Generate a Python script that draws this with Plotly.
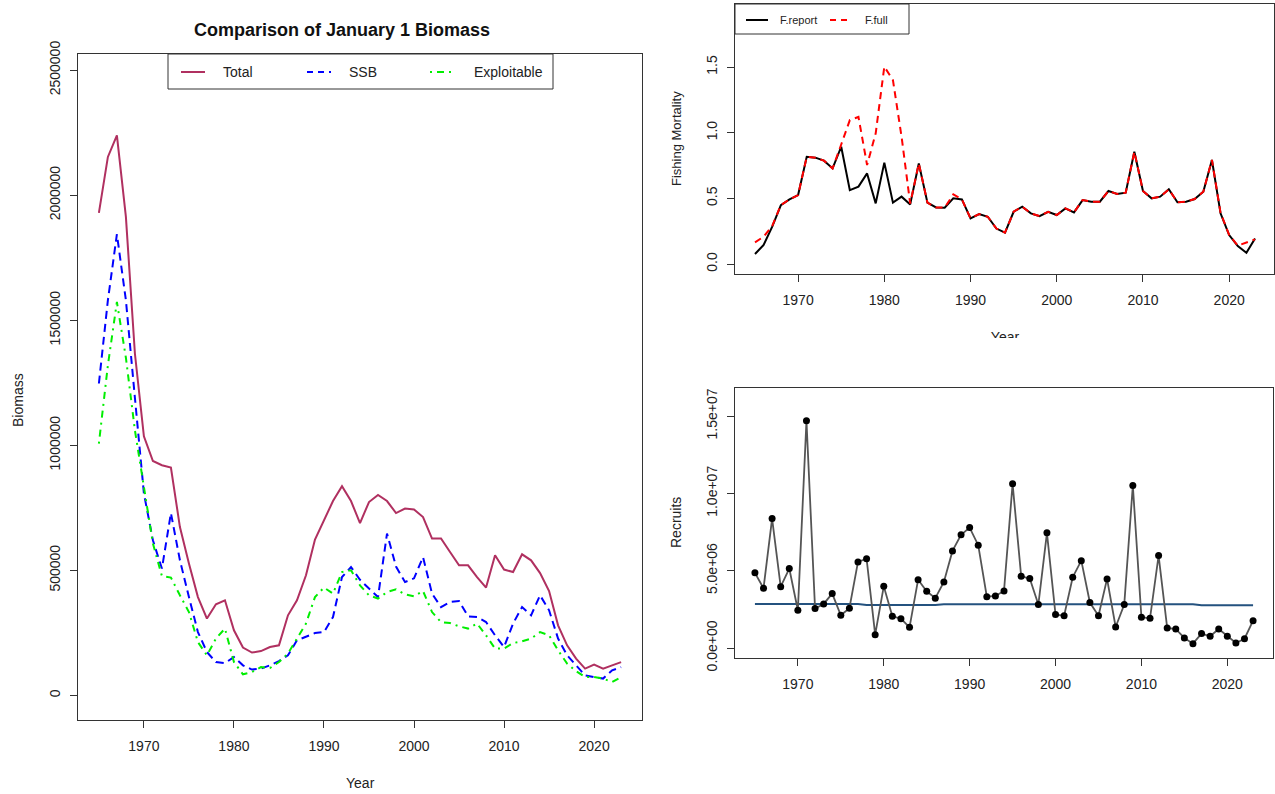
import plotly.graph_objects as go

# ---- data -------------------------------------------------------------
years = list(range(1965, 2024))

total_biomass = [
    1929000, 2153000, 2239000, 1913000, 1367000, 1036000, 937000, 920000, 911000, 673000,
    527000, 393000, 307000, 364000, 380000, 260000, 191000, 171000, 177000, 193000,
    200000, 320000, 380000, 480000, 623000, 697000, 777000, 836000, 777000, 689000,
    773000, 801000, 777000, 729000, 747000, 743000, 713000, 627000, 627000, 573000,
    520000, 520000, 473000, 431000, 560000, 503000, 493000, 564000, 540000, 489000,
    417000, 280000, 200000, 147000, 107000, 123000, 107000, 120000, 133000,
]
ssb = [
    1247000, 1580000, 1844000, 1580000, 1190000, 807000, 620000, 507000, 729000, 540000,
    393000, 253000, 173000, 133000, 129000, 153000, 120000, 103000, 107000, 120000,
    137000, 160000, 220000, 236000, 249000, 253000, 313000, 473000, 513000, 462000,
    427000, 393000, 647000, 515000, 453000, 468000, 553000, 407000, 353000, 373000,
    377000, 316000, 313000, 293000, 240000, 193000, 287000, 353000, 320000, 400000,
    340000, 227000, 160000, 120000, 80000, 73000, 67000, 100000, 113000,
]
exploitable = [
    1007000, 1320000, 1573000, 1350000, 1060000, 833000, 607000, 477000, 471000, 400000,
    333000, 213000, 160000, 227000, 267000, 133000, 84000, 93000, 113000, 109000,
    133000, 167000, 227000, 287000, 393000, 431000, 407000, 493000, 500000, 440000,
    400000, 387000, 413000, 424000, 404000, 396000, 417000, 333000, 293000, 289000,
    276000, 267000, 287000, 240000, 187000, 187000, 209000, 216000, 227000, 253000,
    240000, 180000, 127000, 97000, 73000, 73000, 67000, 53000, 73000,
]

f_report = [
    0.076, 0.145, 0.284, 0.449, 0.492, 0.525, 0.817, 0.810, 0.787, 0.728,
    0.893, 0.563, 0.589, 0.690, 0.462, 0.772, 0.467, 0.513, 0.454, 0.766,
    0.467, 0.431, 0.429, 0.500, 0.492, 0.348, 0.380, 0.360, 0.270, 0.239,
    0.398, 0.437, 0.386, 0.365, 0.398, 0.373, 0.424, 0.393, 0.487, 0.475,
    0.475, 0.556, 0.533, 0.543, 0.855, 0.556, 0.500, 0.513, 0.569, 0.470,
    0.475, 0.495, 0.551, 0.792, 0.386, 0.221, 0.137, 0.086, 0.195,
]
f_full = [
    0.165, 0.208, 0.290, 0.449, 0.492, 0.525, 0.817, 0.810, 0.787, 0.728,
    0.910, 1.096, 1.120, 0.754, 0.995, 1.503, 1.400, 0.970, 0.460, 0.766,
    0.467, 0.431, 0.429, 0.530, 0.492, 0.348, 0.380, 0.360, 0.270, 0.239,
    0.398, 0.437, 0.386, 0.365, 0.398, 0.373, 0.424, 0.393, 0.487, 0.475,
    0.475, 0.556, 0.533, 0.543, 0.855, 0.556, 0.500, 0.513, 0.569, 0.470,
    0.475, 0.495, 0.551, 0.792, 0.390, 0.221, 0.140, 0.162, 0.188,
]

recruits = [
    4.86e6, 3.86e6, 8.37e6, 3.97e6, 5.14e6, 2.44e6, 14.70e6, 2.55e6, 2.85e6, 3.52e6,
    2.12e6, 2.57e6, 5.57e6, 5.78e6, 0.86e6, 3.99e6, 2.05e6, 1.90e6, 1.34e6, 4.42e6,
    3.67e6, 3.22e6, 4.27e6, 6.28e6, 7.32e6, 7.79e6, 6.65e6, 3.32e6, 3.37e6, 3.69e6,
    10.62e6, 4.64e6, 4.49e6, 2.81e6, 7.45e6, 2.16e6, 2.09e6, 4.58e6, 5.65e6, 2.94e6,
    2.09e6, 4.47e6, 1.36e6, 2.81e6, 10.51e6, 1.99e6, 1.92e6, 5.98e6, 1.30e6, 1.23e6,
    0.65e6, 0.28e6, 0.93e6, 0.76e6, 1.23e6, 0.76e6, 0.32e6, 0.60e6, 1.77e6,
]
# expected recruitment (stepwise over the time series)
recruits_expected = (
    [2.85e6] * 13 + [2.78e6] * 9 + [2.83e6] * 30 + [2.77e6] * 7
)

x_ticks = [1970, 1980, 1990, 2000, 2010, 2020]
biomass_ticks = [0, 500000, 1000000, 1500000, 2000000, 2500000]
biomass_tick_text = ["0", "500000", "1000000", "1500000", "2000000", "2500000"]
f_ticks = [0.0, 0.5, 1.0, 1.5]
f_tick_text = ["0.0", "0.5", "1.0", "1.5"]
rec_ticks = [0, 5e6, 1e7, 1.5e7]
rec_tick_text = ["0.0e+00", "5.0e+06", "1.0e+07", "1.5e+07"]

# ---- geometry helpers (pixel -> paper) ---------------------------------
W, H = 1275, 794
FONT = "Liberation Sans, Arial, sans-serif"


def px(x):
    return x / W


def py(y):
    return 1 - y / H


def axis_common(**kw):
    d = dict(
        showline=True, mirror=True, linecolor="#333", linewidth=1,
        ticks="outside", ticklen=7, tickcolor="#333", tickwidth=1,
        showgrid=False, zeroline=False, automargin=False,
        tickfont=dict(family=FONT, size=14, color="#222"),
    )
    d.update(kw)
    return d


fig = go.Figure()

# ---- left panel: biomass comparison ------------------------------------
fig.add_trace(go.Scatter(
    x=years, y=total_biomass, mode="lines", name="Total",
    line=dict(color="#B03060", width=2), xaxis="x", yaxis="y",
))
fig.add_trace(go.Scatter(
    x=years, y=ssb, mode="lines", name="SSB",
    line=dict(color="#0000FF", width=2, dash="8px,5px"), xaxis="x", yaxis="y",
))
fig.add_trace(go.Scatter(
    x=years, y=exploitable, mode="lines", name="Exploitable",
    line=dict(color="#00EE00", width=2, dash="2px,5px,7px,5px"), xaxis="x", yaxis="y",
))

# ---- top right: fishing mortality ---------------------------------------
fig.add_trace(go.Scatter(
    x=years, y=f_report, mode="lines", name="F.report",
    line=dict(color="#000000", width=2), xaxis="x2", yaxis="y2",
))
fig.add_trace(go.Scatter(
    x=years, y=f_full, mode="lines", name="F.full",
    line=dict(color="#FF0000", width=2, dash="7px,5px"), xaxis="x2", yaxis="y2",
))

# ---- bottom right: recruits ---------------------------------------------
fig.add_trace(go.Scatter(
    x=years, y=recruits_expected, mode="lines", name="Expected",
    line=dict(color="#24527F", width=2), xaxis="x3", yaxis="y3",
))
fig.add_trace(go.Scatter(
    x=years, y=recruits, mode="lines+markers", name="Recruits",
    line=dict(color="#555555", width=1.8),
    marker=dict(color="#000000", size=7),
    xaxis="x3", yaxis="y3",
))

# axis label of the top-right panel, cut off at the panel region's edge
fig.add_trace(go.Scatter(
    x=[0.5], y=[0.0], mode="text", text=["Year"],
    textfont=dict(family=FONT, size=14, color="#222"),
    cliponaxis=True, xaxis="x4", yaxis="y4", hoverinfo="skip",
))

x_range = [1962.68, 2025.32]

fig.update_layout(
    width=W, height=H,
    margin=dict(l=0, r=0, t=0, b=0, pad=0, autoexpand=False),
    paper_bgcolor="white", plot_bgcolor="white",
    showlegend=False,
    xaxis=axis_common(domain=[px(78), px(642)], range=x_range,
                      tickvals=x_ticks, ticklabelstandoff=6, anchor="y"),
    yaxis=axis_common(domain=[py(720), py(54)], range=[-98640, 2564640],
                      tickvals=biomass_ticks, ticktext=biomass_tick_text,
                      tickangle=-90, ticklabelstandoff=4, anchor="x"),
    xaxis2=axis_common(domain=[px(735), px(1274)], range=[1962.68, 2025.2],
                       tickvals=x_ticks, ticklabelstandoff=6, anchor="y2"),
    yaxis2=axis_common(domain=[py(274), py(4)], range=[-0.076, 1.98],
                       tickvals=f_ticks, ticktext=f_tick_text,
                       tickangle=-90, ticklabelstandoff=4, anchor="x2"),
    xaxis3=axis_common(domain=[px(735), px(1273)], range=x_range,
                       tickvals=x_ticks, ticklabelstandoff=6, anchor="y3"),
    yaxis3=axis_common(domain=[py(658), py(388)], range=[-0.647e6, 16.82e6],
                       tickvals=rec_ticks, ticktext=rec_tick_text,
                       tickangle=-90, ticklabelstandoff=4, anchor="x3"),
    xaxis4=dict(domain=[px(735), px(1275)], range=[0, 1], visible=False,
                automargin=False, anchor="y4"),
    yaxis4=dict(domain=[py(338), py(300)], range=[0, 1], visible=False,
                automargin=False, anchor="x4"),
)

shapes = []
annotations = []


def text(x, y, s, size=14, angle=0, xanchor="center", bold=False):
    annotations.append(dict(
        x=px(x), y=py(y), xref="paper", yref="paper", text=f"<b>{s}</b>" if bold else s,
        showarrow=False, xanchor=xanchor, yanchor="middle", textangle=angle,
        font=dict(family=FONT, size=size, color="#111" if bold else "#222"),
    ))


def legend_line(x0, x1, y, color, dash="solid"):
    shapes.append(dict(
        type="line", xref="paper", yref="paper",
        x0=px(x0), x1=px(x1), y0=py(y), y1=py(y),
        line=dict(color=color, width=2, dash=dash),
    ))


def legend_box(x0, y0, x1, y1):
    shapes.append(dict(
        type="rect", xref="paper", yref="paper",
        x0=px(x0), x1=px(x1), y0=py(y1), y1=py(y0),
        line=dict(color="#333", width=1), fillcolor="white", layer="above",
    ))


# titles
text(342, 30, "Comparison of January 1 Biomass", size=18, bold=True)
text(360, 783, "Year")
text(18, 400, "Biomass", angle=-90)
text(676, 139, "Fishing Mortality", size=13, angle=-90)
text(676, 523, "Recruits", angle=-90)

# biomass legend
legend_box(168, 54, 553, 89)
legend_line(181, 205, 72, "#B03060")
text(221, 72, "Total", xanchor="left")
legend_line(307, 331, 72, "#0000FF", "6px,5px")
text(347, 72, "SSB", xanchor="left")
legend_line(430, 454, 72, "#00EE00", "2px,5px,7px,5px")
text(472, 72, "Exploitable", xanchor="left")

# fishing mortality legend
legend_box(735, 4, 909, 34)
legend_line(746, 768, 20, "#000000")
text(778, 20, "F.report", size=11, xanchor="left")
legend_line(830, 852, 20, "#FF0000", "6px,5px")
text(863, 20, "F.full", size=11, xanchor="left")

fig.update_layout(shapes=shapes, annotations=annotations)

fig.write_html("out.html")
